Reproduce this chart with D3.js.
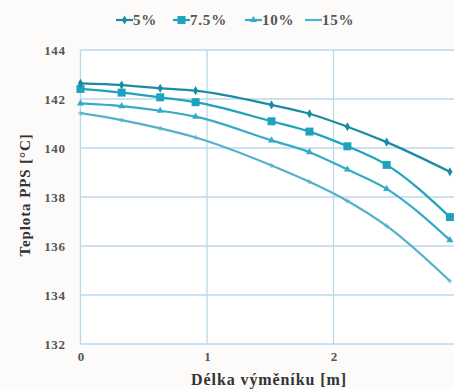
<!DOCTYPE html>
<html>
<head>
<meta charset="utf-8">
<script src="https://cdn.jsdelivr.net/npm/d3@7"></script>
<style>
  body { margin: 0; background: #fdfafa; }
  svg { display: block; font-family: "Liberation Serif", "DejaVu Serif", serif; }
</style>
</head>
<body>
<script>
var width = 454,
    height = 389;

// chart values
var lengths = [0, 0.325, 0.63, 0.91, 1.51, 1.81, 2.11, 2.42, 2.92];
var seriesNames = ["5%", "7.5%", "10%", "15%"];
var t5  = [142.64, 142.57, 142.44, 142.34, 141.76, 141.40, 140.87, 140.24, 139.03];
var t75 = [142.41, 142.26, 142.07, 141.87, 141.09, 140.67, 140.07, 139.31, 137.18];
var t10 = [141.82, 141.71, 141.52, 141.28, 140.31, 139.83, 139.12, 138.33, 136.24];
var t15 = [141.42, 141.14, 140.80, 140.43, 139.29, 138.62, 137.84, 136.82, 134.57];
var yTicks = [132, 134, 136, 138, 140, 142, 144];
var xTicks = [0, 1, 2];
var xGrid = [0, 1, 2, 3];

var series = [
  { name: seriesNames[0], values: t5,  color: "#1a8ba3", marker: "diamond" },
  { name: seriesNames[1], values: t75, color: "#1ea3bd", marker: "square" },
  { name: seriesNames[2], values: t10, color: "#35abc6", marker: "triangle" },
  { name: seriesNames[3], values: t15, color: "#54b1cb", marker: "cross" }
];

var margin = { left: 80.5, top: 50, bottom: 45 };

var x = d3.scaleLinear().domain([0, 3]).range([margin.left, margin.left + 379.5]);
var y = d3.scaleLinear().domain([132, 144]).range([height - margin.bottom, margin.top]);

var svg = d3.select("body").append("svg")
    .attr("width", width)
    .attr("height", height);

// plot background
svg.append("rect")
    .attr("x", x(0)).attr("y", y(144))
    .attr("width", x(3) - x(0)).attr("height", y(132) - y(144))
    .attr("fill", "#ffffff");

// grid lines
svg.append("g")
    .selectAll("line")
    .data(yTicks)
    .enter().append("line")
    .attr("x1", x(0)).attr("x2", x(3))
    .attr("y1", d => y(d)).attr("y2", d => y(d))
    .attr("stroke", "#bcd9e8").attr("stroke-width", 1.3);

svg.append("g")
    .selectAll("line")
    .data(xGrid)
    .enter().append("line")
    .attr("y1", y(132)).attr("y2", y(144))
    .attr("x1", d => x(d)).attr("x2", d => x(d))
    .attr("stroke", "#bcd9e8").attr("stroke-width", 1.3);

// axes tick labels
var yAxis = d3.axisLeft(y).tickValues(yTicks).tickFormat(d3.format("d")).tickSize(0).tickPadding(15);
svg.append("g")
    .attr("transform", "translate(" + x(0) + ",0)")
    .call(yAxis)
    .call(g => g.select(".domain").remove())
    .selectAll("text")
    .attr("font-family", "Liberation Serif, serif")
    .attr("font-weight", "bold")
    .attr("font-size", 13)
    .attr("letter-spacing", 0.6)
    .attr("fill", "#555");

var xAxis = d3.axisBottom(x).tickValues(xTicks).tickFormat(d3.format("d")).tickSize(0).tickPadding(8);
svg.append("g")
    .attr("transform", "translate(0," + y(132) + ")")
    .call(xAxis)
    .call(g => g.select(".domain").remove())
    .selectAll("text")
    .attr("font-family", "Liberation Serif, serif")
    .attr("font-weight", "bold")
    .attr("font-size", 13)
    .attr("fill", "#555");

// axis titles
svg.append("text")
    .attr("x", 269).attr("y", 385)
    .attr("text-anchor", "middle")
    .attr("font-weight", "bold")
    .attr("font-size", 16)
    .attr("letter-spacing", 0.9)
    .attr("fill", "#333")
    .text("Délka výměníku [m]");

svg.append("text")
    .attr("transform", "translate(30,195) rotate(-90)")
    .attr("text-anchor", "middle")
    .attr("font-weight", "bold")
    .attr("font-size", 15)
    .attr("letter-spacing", 0.9)
    .attr("fill", "#333")
    .text("Teplota PPS [°C]");

// lines
var line = d3.line()
    .x((d, i) => x(lengths[i]))
    .y(d => y(d))
    .curve(d3.curveMonotoneX);

function drawMarker(g, type, color, cx, cy) {
  if (type == "diamond") {
    g.append("path").attr("d", d3.symbol(d3.symbolDiamond, 24)())
      .attr("transform", "translate(" + cx + "," + cy + ")").attr("fill", color);
  } else if (type == "square") {
    g.append("rect").attr("x", cx - 4).attr("y", cy - 4)
      .attr("width", 8).attr("height", 8).attr("fill", color);
  } else if (type == "triangle") {
    g.append("path").attr("d", d3.symbol(d3.symbolTriangle, 22)())
      .attr("transform", "translate(" + cx + "," + cy + ")").attr("fill", color);
  } else {
    g.append("path").attr("d", d3.symbol(d3.symbolCross, 14)())
      .attr("transform", "translate(" + cx + "," + cy + ")").attr("fill", color)
      .attr("opacity", 0.6);
  }
}

series.slice().reverse().forEach(function(s) {
  var g = svg.append("g");
  g.append("path")
    .datum(s.values)
    .attr("fill", "none")
    .attr("stroke", s.color)
    .attr("stroke-width", 2.2)
    .attr("d", line);
  s.values.forEach(function(v, i) {
    drawMarker(g, s.marker, s.color, x(lengths[i]), y(v));
  });
});

// legend
var legendX = [116, 173, 245, 305];
var legend = svg.append("g");
series.forEach(function(s, i) {
  var lx = legendX[i], ly = 20;
  legend.append("line")
    .attr("x1", lx).attr("x2", lx + 17)
    .attr("y1", ly).attr("y2", ly)
    .attr("stroke", s.color).attr("stroke-width", 2.2);
  if (s.marker != "cross") drawMarker(legend, s.marker, s.color, lx + 8.5, ly);
  legend.append("text")
    .attr("x", lx + 17).attr("y", ly + 5)
    .attr("font-weight", "bold")
    .attr("font-size", 15)
    .attr("letter-spacing", 0.8)
    .attr("fill", "#555")
    .text(s.name);
});
</script>
</body>
</html>
